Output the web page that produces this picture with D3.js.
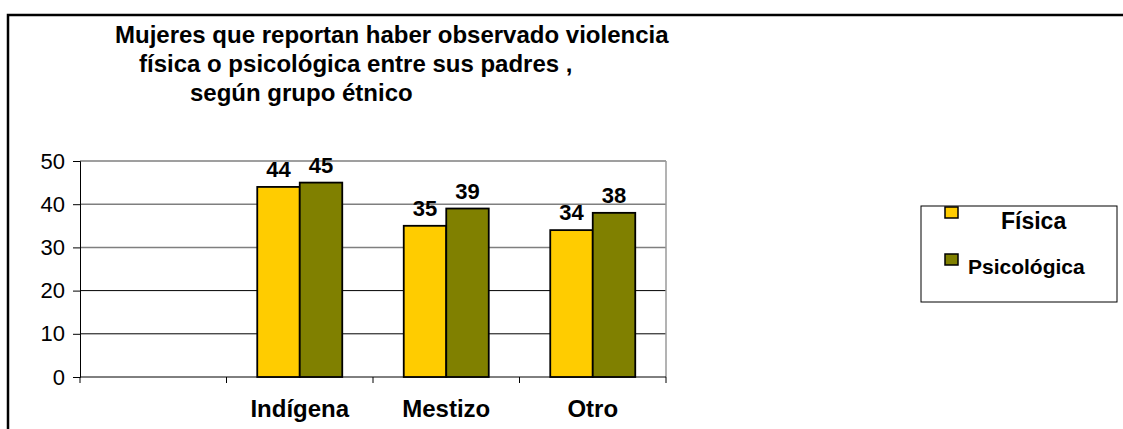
<!DOCTYPE html>
<html>
<head>
<meta charset="utf-8">
<script src="https://cdn.jsdelivr.net/npm/d3@7"></script>
<style>
    body { margin: 0; background: #fff; }
    svg { display: block; font-family: "Liberation Sans", Arial, sans-serif; }
</style>
</head>
<body>
<div class="chart"></div>
<script>
// chart data
const categories = ["", "Indígena", "Mestizo", "Otro"];
const series = ["Física", "Psicológica"];
const fisica = [null, 44, 35, 34];
const psicologica = [null, 45, 39, 38];
const yTicks = [0, 10, 20, 30, 40, 50];
const titleLines = [
    "Mujeres que reportan haber observado violencia",
    "física o psicológica entre sus padres ,",
    "según grupo étnico"
];

const colours = { "Física": "#FFCC00", "Psicológica": "#808000" };

const width = 1123, height = 429;
const plot = { left: 80, right: 666, top: 161, bottom: 377 };

let svg = d3.select(".chart").append("svg")
    .attr("width", width)
    .attr("height", height);

// outer frame (only top and left edges are visible)
svg.append("path")
    .attr("d", "M8," + (height + 2) + "V15H" + (width + 2))
    .attr("fill", "none")
    .attr("stroke", "#000")
    .attr("stroke-width", 2.5);

// title
const titleX = [115, 139, 190];
svg.append("g").selectAll("text")
    .data(titleLines)
    .enter()
        .append("text")
        .attr("x", (d, i) => titleX[i])
        .attr("y", (d, i) => 43 + i * 29)
        .attr("font-size", 24)
        .attr("font-weight", "bold")
        .text(d => d);

// scales
let x = d3.scaleBand()
    .domain(categories)
    .range([plot.left, plot.right]);

const groupWidth = 85;
let x1 = d3.scaleBand()
    .domain(series)
    .range([(x.bandwidth() - groupWidth) / 2, (x.bandwidth() + groupWidth) / 2]);

let y = d3.scaleLinear()
    .domain([0, 50])
    .range([plot.bottom, plot.top]);

// gridlines
svg.append("g").selectAll("line")
    .data(yTicks.filter(d => d > 0))
    .enter()
        .append("line")
        .attr("x1", plot.left)
        .attr("x2", plot.right)
        .attr("y1", d => y(d))
        .attr("y2", d => y(d))
        .attr("stroke", d => d >= 30 ? "#7f7f7f" : "#000")
        .attr("stroke-width", d => d >= 30 ? 1.5 : 1);

// plot area right edge
svg.append("line")
    .attr("x1", plot.right).attr("x2", plot.right)
    .attr("y1", plot.top).attr("y2", plot.bottom)
    .attr("stroke", "#9a9a9a")
    .attr("stroke-width", 1.5);

// y axis
let yAxis = svg.append("g")
    .attr("transform", "translate(" + plot.left + ",0)")
    .call(d3.axisLeft(y).tickValues(yTicks).tickSize(7).tickPadding(8));
yAxis.select(".domain").attr("stroke", "#000");
yAxis.selectAll("text")
    .attr("font-size", 22)
    .attr("font-family", "Liberation Sans, Arial, sans-serif")
    .attr("fill", "#000");

// x axis with ticks between categories
let xAxis = svg.append("g")
    .attr("transform", "translate(0," + plot.bottom + ")");
xAxis.append("line")
    .attr("x1", plot.left).attr("x2", plot.right)
    .attr("stroke", "#000");
xAxis.selectAll(".tick")
    .data(categories.concat(["end"]))
    .enter()
        .append("line")
        .attr("x1", (d, i) => i < categories.length ? x(d) : x(categories[categories.length - 1]) + x.bandwidth())
        .attr("x2", (d, i) => i < categories.length ? x(d) : x(categories[categories.length - 1]) + x.bandwidth())
        .attr("y1", 0)
        .attr("y2", 6)
        .attr("stroke", "#000");
xAxis.selectAll(".catLabel")
    .data(categories)
    .enter()
        .append("text")
        .attr("x", d => x(d) + x.bandwidth() / 2)
        .attr("y", 40)
        .attr("text-anchor", "middle")
        .attr("font-size", 24)
        .attr("font-weight", "bold")
        .text(d => d);

// bars
const rows = categories.map((c, i) => ({
    category: c,
    values: [
        { key: "Física", value: fisica[i] },
        { key: "Psicológica", value: psicologica[i] }
    ].filter(v => v.value != null)
}));

let group = svg.append("g").selectAll("g")
    .data(rows)
    .enter()
        .append("g")
        .attr("transform", d => "translate(" + x(d.category) + ",0)");

group.selectAll("rect")
    .data(d => d.values)
    .enter()
        .append("rect")
        .attr("x", d => x1(d.key))
        .attr("y", d => y(d.value))
        .attr("width", x1.bandwidth())
        .attr("height", d => plot.bottom - y(d.value))
        .attr("fill", d => colours[d.key])
        .attr("stroke", "#000")
        .attr("stroke-width", 1.8);

// value labels
group.selectAll("text")
    .data(d => d.values)
    .enter()
        .append("text")
        .attr("x", d => x1(d.key) + x1.bandwidth() / 2)
        .attr("y", d => y(d.value) - 10)
        .attr("text-anchor", "middle")
        .attr("font-size", 22)
        .attr("font-weight", "bold")
        .text(d => d.value);

// legend
let legend = svg.append("g");
legend.append("rect")
    .attr("x", 921).attr("y", 206)
    .attr("width", 196).attr("height", 96)
    .attr("fill", "#fff")
    .attr("stroke", "#000");

const legendRows = [
    { key: "Física", sy: 207, tx: 1001, ty: 229, size: 23 },
    { key: "Psicológica", sy: 254, tx: 968, ty: 274, size: 21 }
];
legend.selectAll(".swatch")
    .data(legendRows)
    .enter()
        .append("rect")
        .attr("x", 945)
        .attr("y", d => d.sy)
        .attr("width", 13)
        .attr("height", 11)
        .attr("fill", d => colours[d.key])
        .attr("stroke", "#000")
        .attr("stroke-width", 1.5);
legend.selectAll(".label")
    .data(legendRows)
    .enter()
        .append("text")
        .attr("x", d => d.tx)
        .attr("y", d => d.ty)
        .attr("font-size", d => d.size)
        .attr("font-weight", "bold")
        .text(d => d.key);
</script>
</body>
</html>
